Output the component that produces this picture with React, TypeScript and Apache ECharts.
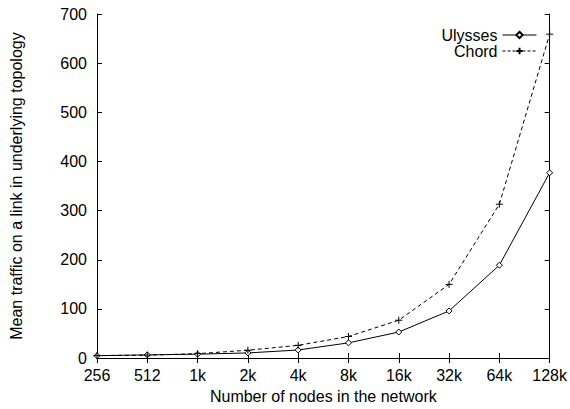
import React, { useEffect, useRef } from "react";
import * as echarts from "echarts";

const categories = ["256", "512", "1k", "2k", "4k", "8k", "16k", "32k", "64k", "128k"];
const ulysses = [5, 6.5, 8, 10.5, 16.5, 31, 53, 96, 189, 377];
const chord = [5, 6, 9, 16, 26, 44, 77, 150, 313, 659];
const yTicks = [0, 700, 100];

const FONT = "Liberation Sans, Arial, Helvetica, sans-serif";

export default function App() {
  const ref = useRef<HTMLDivElement>(null);
  useEffect(() => {
    if (!ref.current) return;
    const chart = echarts.init(ref.current, undefined, { renderer: "svg" });
    const axisLine = { lineStyle: { color: "#000", width: 1 } };
    chart.setOption({
      animation: false,
      backgroundColor: "#fff",
      textStyle: { fontFamily: FONT },
      grid: { left: 96, right: 18, top: 14, bottom: 42, containLabel: false },
      legend: {
        right: 33,
        top: 27,
        padding: 0,
        orient: "vertical",
        align: "right",
        itemWidth: 34,
        itemHeight: 8,
        itemGap: 0,
        textStyle: { fontFamily: FONT, fontSize: 16, lineHeight: 16, color: "#000" },
        data: [
          { name: "Ulysses", lineStyle: { width: 1, color: "#000", type: "solid" } },
          { name: "Chord", lineStyle: { width: 1, color: "#000", type: [3, 2] } },
        ],
      },
      xAxis: [
        {
          type: "category",
          data: categories,
          boundaryGap: false,
          name: "Number of nodes in the network",
          nameLocation: "middle",
          nameGap: 25,
          nameTextStyle: { fontFamily: FONT, fontSize: 16, color: "#000" },
          axisLine,
          axisTick: { inside: true, length: 5, lineStyle: { color: "#000" } },
          axisLabel: { color: "#000", fontSize: 16, fontFamily: FONT, margin: 9, hideOverlap: false },
          splitLine: { show: false },
        },
        {
          type: "category",
          data: categories,
          boundaryGap: false,
          position: "top",
          axisLine,
          axisTick: { inside: true, length: 5, lineStyle: { color: "#000" } },
          axisLabel: { show: false },
          splitLine: { show: false },
        },
      ],
      yAxis: [
        {
          type: "value",
          min: yTicks[0],
          max: yTicks[1],
          interval: yTicks[2],
          name: "Mean traffic on a link in underlying topology",
          nameLocation: "middle",
          nameGap: 73,
          nameTextStyle: { fontFamily: FONT, fontSize: 16, color: "#000" },
          axisLine: { show: true, lineStyle: { color: "#000", width: 1 } },
          axisTick: { show: true, inside: true, length: 5, lineStyle: { color: "#000" } },
          axisLabel: { color: "#000", fontSize: 16, fontFamily: FONT, margin: 10 },
          splitLine: { show: false },
        },
        {
          type: "value",
          min: yTicks[0],
          max: yTicks[1],
          interval: yTicks[2],
          position: "right",
          axisLine: { show: true, lineStyle: { color: "#000", width: 1 } },
          axisTick: { show: true, inside: true, length: 5, lineStyle: { color: "#000" } },
          axisLabel: { show: false },
          splitLine: { show: false },
        },
      ],
      series: [
        {
          name: "Ulysses",
          type: "line",
          data: ulysses,
          xAxisIndex: 0,
          yAxisIndex: 0,
          symbol: "diamond",
          symbolSize: 6,
          showAllSymbol: true,
          color: "#000",
          lineStyle: { color: "#000", width: 1, type: "solid" },
          itemStyle: { color: "#fff", borderColor: "#000", borderWidth: 1 },
          emphasis: { disabled: true },
        },
        {
          name: "Chord",
          type: "line",
          data: chord,
          xAxisIndex: 0,
          yAxisIndex: 0,
          symbol: "path://M0,4 L8,4 M4,0 L4,8",
          symbolSize: 7,
          showAllSymbol: true,
          color: "#000",
          lineStyle: { color: "#000", width: 1, type: [4, 3] },
          itemStyle: { color: "#000", borderColor: "#000", borderWidth: 1 },
          emphasis: { disabled: true },
        },
      ],
    });
    return () => chart.dispose();
  }, []);
  return (
    <div
      ref={ref}
      style={{ position: "absolute", left: 0, top: 0, width: 570, height: 409 }}
    />
  );
}
